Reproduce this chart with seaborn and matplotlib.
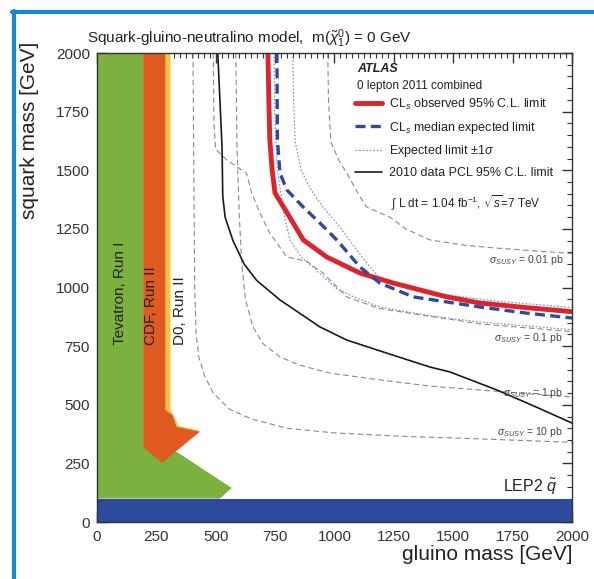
import matplotlib
matplotlib.use('Agg')
import matplotlib.pyplot as plt
from matplotlib.lines import Line2D
from matplotlib.ticker import MultipleLocator
import seaborn as sns

# ─── data (GeV) ──────────────────────────────────────────────────────
obs_gluino = [720, 724, 728, 738, 750, 800, 869, 968, 1107, 1248, 1473, 1613, 1800, 2000]
obs_squark = [2000, 1800, 1630, 1500, 1403, 1320, 1203, 1130, 1062, 1019, 960, 934, 915, 897]

exp_gluino = [758, 760, 771, 800, 869, 939, 1010, 1107, 1191, 1332, 1613, 1800, 2000]
exp_squark = [2000, 1630, 1488, 1416, 1343, 1275, 1203, 1088, 1019, 960, 917, 892, 870]

exp_up_gluino = [825, 828, 835, 860, 900, 952, 1023, 1080, 1136, 1191, 1300, 1500, 1700, 2000]
exp_up_squark = [2000, 1800, 1620, 1500, 1420, 1343, 1258, 1180, 1104, 1040, 1000, 965, 940, 915]

exp_dn_gluino = [745, 750, 760, 775, 790, 813, 860, 909, 960, 1010, 1078, 1191, 1400, 1613, 2000]
exp_dn_squark = [2000, 1700, 1500, 1400, 1300, 1203, 1130, 1088, 1040, 995, 962, 917, 880, 853, 820]

pcl2010_gluino = [509, 518, 527, 530, 540, 573, 620, 673, 771, 939, 1052, 1221, 1402, 1486, 1684, 1850, 2000]
pcl2010_squark = [2000, 1800, 1600, 1390, 1300, 1200, 1100, 1030, 947, 832, 776, 720, 661, 640, 563, 490, 422]

# cross-section contours
xs_labels = ['0.01', '0.1', '1', '10']
xs001_gluino = [972, 975, 985, 1020, 1052, 1100, 1136, 1234, 1300, 1402, 1550, 1684, 2000]
xs001_squark = [2000, 1800, 1620, 1540, 1488, 1400, 1343, 1300, 1250, 1203, 1180, 1168, 1145]
xs01_gluino = [490, 493, 500, 547, 630, 652, 686, 728, 800, 884, 952, 1052, 1191, 1613, 2000]
xs01_squark = [2000, 1700, 1590, 1544, 1488, 1403, 1318, 1232, 1130, 1112, 1062, 960, 910, 845, 812]
xs1_gluino = [585, 590, 600, 610, 625, 657, 700, 771, 850, 981, 1200, 1400, 1613, 2000]
xs1_squark = [2000, 1600, 1300, 1100, 950, 832, 760, 704, 670, 635, 605, 580, 563, 533]
xs10_gluino = [405, 408, 412, 418, 430, 455, 490, 560, 650, 800, 1000, 1300, 1600, 2000]
xs10_squark = [2000, 1500, 1000, 800, 700, 620, 550, 480, 440, 400, 380, 365, 355, 340]
xs_label_squark = [1117, 785, 550, 384]

# excluded regions
tev1_gluino = [0, 0, 195, 195, 335, 568, 518]
tev1_squark = [100, 2000, 2000, 320, 300, 145, 100]
cdf_gluino = [195, 288, 288, 319, 335, 434, 274, 195]
cdf_squark = [2000, 2000, 478, 456, 406, 385, 252, 320]
d0_gluino = [285, 310, 310, 345, 430, 434, 285]
d0_squark = [2000, 2000, 480, 410, 390, 385, 400]
lep2_gluino = [0, 2000, 2000, 0]
lep2_squark = [0, 0, 100, 100]

# ─── style ───────────────────────────────────────────────────────────
sns.set_theme(style='ticks')
plt.rcParams['font.family'] = ['Liberation Sans', 'DejaVu Sans']
plt.rcParams['mathtext.fontset'] = 'custom'
plt.rcParams['mathtext.rm'] = 'Liberation Sans'
plt.rcParams['mathtext.it'] = 'Liberation Sans:italic'
plt.rcParams['mathtext.bf'] = 'Liberation Sans:bold'
TXT = '#222222'

fig = plt.figure(figsize=(5.94, 5.79), dpi=100)
ax = fig.add_axes([0.163, 0.0984, 0.80, 0.81])

# filled regions
ax.fill(tev1_gluino, tev1_squark, color='#7DB13F', lw=0, zorder=1)
ax.fill(d0_gluino, d0_squark, color='#F3C443', lw=0, zorder=2)
ax.fill(cdf_gluino, cdf_squark, color='#E05A22', lw=0, zorder=3)
ax.fill(lep2_gluino, lep2_squark, color='#2E4A9E', lw=0, zorder=4)

# cross-section contours
grey = '#8a8a8a'
for gx, sq in [(xs001_gluino, xs001_squark), (xs01_gluino, xs01_squark),
               (xs1_gluino, xs1_squark), (xs10_gluino, xs10_squark)]:
    sns.lineplot(x=gx, y=sq, sort=False, estimator=None, ax=ax, color=grey,
                 linewidth=0.8, linestyle=(0, (5, 3)), zorder=5)

# limits
sns.lineplot(x=pcl2010_gluino, y=pcl2010_squark, sort=False, estimator=None, ax=ax,
             color='#1a1a1a', linewidth=1.2, zorder=6, label='2010 data PCL 95% C.L. limit')
sns.lineplot(x=exp_up_gluino, y=exp_up_squark, sort=False, estimator=None, ax=ax,
             color='#8391cc', linewidth=0.85, linestyle=(0, (1.5, 1.5)), zorder=6,
             label='Expected limit $\\pm1\\sigma$')
sns.lineplot(x=exp_dn_gluino, y=exp_dn_squark, sort=False, estimator=None, ax=ax,
             color='#8391cc', linewidth=0.85, linestyle=(0, (1.5, 1.5)), zorder=6)
sns.lineplot(x=obs_gluino, y=obs_squark, sort=False, estimator=None, ax=ax,
             color='#D9252B', linewidth=3.5, zorder=7, label='CL$_s$ observed 95% C.L. limit')
sns.lineplot(x=exp_gluino, y=exp_squark, sort=False, estimator=None, ax=ax,
             color='#2E4A9B', linewidth=2.4, linestyle=(0, (3, 1.6)), zorder=8,
             label='CL$_s$ median expected limit')

# axes
ax.set_xlim(0, 2000)
ax.set_ylim(0, 2000)
ax.xaxis.set_major_locator(MultipleLocator(250))
ax.xaxis.set_minor_locator(MultipleLocator(25))
ax.yaxis.set_major_locator(MultipleLocator(250))
ax.yaxis.set_minor_locator(MultipleLocator(50))
ax.tick_params(which='both', direction='in', top=True, right=True, colors='#333333',
               labelcolor='#333333', labelsize=11)
ax.tick_params(which='major', length=7, width=1.0)
ax.tick_params(which='minor', length=3.5, width=0.8)
ax.tick_params(axis='x', pad=6)
ax.tick_params(axis='y', pad=5)
for s in ax.spines.values():
    s.set_color('#333333')
    s.set_linewidth(1.0)
    s.set_zorder(10)

ax.set_xlabel('gluino mass [GeV]', fontsize=15, loc='right', color=TXT)
ax.xaxis.set_label_coords(1.0, -0.048)
ax.set_ylabel('squark mass [GeV]', fontsize=15, loc='top', color=TXT)
ax.yaxis.set_label_coords(-0.122, 1.025)

# legend
h, l = ax.get_legend_handles_labels()
hd = dict(zip(l, h))
order = ['CL$_s$ observed 95% C.L. limit', 'CL$_s$ median expected limit',
         'Expected limit $\\pm1\\sigma$', '2010 data PCL 95% C.L. limit']
leg = ax.legend([hd[k] for k in order], order, loc='upper left',
                bbox_to_anchor=(0.543, 0.907), frameon=False, borderaxespad=0,
                borderpad=0, handlelength=2.2, handletextpad=0.55, labelspacing=0.62,
                fontsize=9)
for t in leg.get_texts():
    t.set_color(TXT)
    t.set_clip_box(ax.bbox)
    t.set_clip_on(True)

ax.text(0.548, 0.966, 'ATLAS', transform=ax.transAxes, fontsize=9, fontweight='bold',
        fontstyle='italic', color=TXT, va='center', ha='left')
ax.text(0.548, 0.930, '0 lepton 2011 combined', transform=ax.transAxes, fontsize=8.5,
        color=TXT, va='center', ha='left')
ax.text(0.62, 0.68, '$\\int$ L dt = 1.04 fb$^{-1}$, $\\sqrt{s}$=7 TeV', transform=ax.transAxes,
        fontsize=8.5, color=TXT, va='center', ha='left')

# cross-section labels
for lab, ys in zip(xs_labels, xs_label_squark):
    ax.text(1962, ys, '$\\sigma_{SUSY}$ = ' + lab + ' pb', fontsize=7.5, color='#444444',
            ha='right', va='center', zorder=9)

# region labels
ax.text(97, 755, 'Tevatron, Run I', rotation=90, fontsize=11, color=TXT,
        ha='center', va='bottom', zorder=9)
ax.text(227, 755, 'CDF, Run II', rotation=90, fontsize=11, color=TXT,
        ha='center', va='bottom', zorder=9)
ax.text(350, 755, 'D0, Run II', rotation=90, fontsize=11, color=TXT,
        ha='center', va='bottom', zorder=9)
ax.text(1937, 149, 'LEP2 $\\tilde{q}$', fontsize=11.5, color=TXT, ha='right', va='center',
        zorder=9)

fig.text(0.147, 0.934, 'Squark-gluino-neutralino model,  m($\\tilde{\\chi}^0_1$) = 0 GeV',
         fontsize=11, color=TXT, ha='left', va='center')

# blue frame of the page
fig.add_artist(Line2D([0.0202, 1.0], [0.979, 0.979], transform=fig.transFigure,
                      color='#1787D0', lw=3))
fig.add_artist(Line2D([0.0236, 0.0236], [0.0, 0.981], transform=fig.transFigure,
                      color='#1787D0', lw=3))

fig.savefig('out.png', dpi=100)
